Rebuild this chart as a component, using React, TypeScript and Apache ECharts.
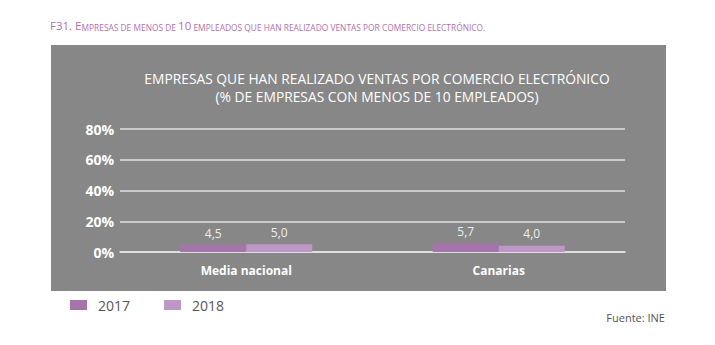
import React, { useEffect, useRef } from "react";
import * as echarts from "echarts";

const categories = ["Media nacional", "Canarias"];
const years = ["2017", "2018"];
const values2017 = [4.5, 5.7];
const values2018 = [5.0, 4.0];
const yTicks = { min: 0, max: 80, interval: 20 };

const FONT = "'Open Sans', sans-serif";

export default function App() {
  const ref = useRef<HTMLDivElement>(null);
  useEffect(() => {
    if (!ref.current) return;
    const chart = echarts.init(ref.current, undefined, { renderer: "svg" });
    const labelFmt = (p: any) => Number(p.value).toFixed(1).replace(".", ",");
    chart.setOption({
      animation: false,
      backgroundColor: "#ffffff",
      textStyle: { fontFamily: FONT },
      graphic: [
        {
          type: "rect",
          z: -10,
          shape: { x: 51, y: 45, width: 615, height: 246 },
          style: { fill: "#878787" },
        },
        {
          type: "text",
          x: 50,
          y: 17,
          style: {
            text: "{b|F31. E}{s|MPRESAS DE MENOS DE }{b|10}{s| EMPLEADOS QUE HAN REALIZADO VENTAS POR COMERCIO ELECTRÓNICO.}",
            rich: {
              b: { fontSize: 11.5, lineHeight: 14, verticalAlign: "bottom", fill: "#b570ae", fontFamily: FONT },
              s: { fontSize: 8.4, lineHeight: 14, verticalAlign: "bottom", fill: "#b570ae", fontFamily: FONT },
            },
          },
        },
        {
          type: "text",
          x: 665,
          y: 312,
          style: {
            text: "Fuente: INE",
            fontSize: 11,
            fill: "#555555",
            fontFamily: FONT,
            textAlign: "right",
          },
        },
      ],
      title: {
        text: "EMPRESAS QUE HAN REALIZADO VENTAS POR COMERCIO ELECTRÓNICO\n(% DE EMPRESAS CON MENOS DE 10 EMPLEADOS)",
        left: 372,
        top: 64,
        textAlign: "center",
        textStyle: {
          color: "#ffffff",
          fontSize: 13.8,
          fontWeight: "normal",
          lineHeight: 18,
          fontFamily: FONT,
        },
      },
      legend: {
        data: years,
        left: 65,
        top: 293,
        icon: "rect",
        itemWidth: 17,
        itemHeight: 10,
        itemGap: 34,
        textStyle: {
          color: "#555555",
          fontSize: 14,
          fontFamily: FONT,
          padding: [0, 0, 0, 6],
        },
      },
      grid: { left: 120, right: 90, top: 129, bottom: 93, containLabel: false },
      xAxis: {
        type: "category",
        data: categories,
        axisLine: { lineStyle: { color: "#e6e6e6", width: 1.5 } },
        axisTick: { inside: true, length: 10, lineStyle: { color: "#e6e6e6", width: 1.5 } },
        axisLabel: {
          color: "#ffffff",
          fontWeight: "bold",
          fontSize: 12,
          margin: 12,
          fontFamily: FONT,
        },
      },
      yAxis: {
        type: "value",
        min: yTicks.min,
        max: yTicks.max,
        interval: yTicks.interval,
        axisLine: { show: false },
        axisTick: { show: false },
        axisLabel: {
          formatter: "{value}%",
          color: "#ffffff",
          fontWeight: "bold",
          fontSize: 14,
          margin: 6,
          fontFamily: FONT,
        },
        splitLine: { lineStyle: { color: "#e0e0e0", width: 1.5 } },
      },
      series: [
        {
          name: years[0],
          type: "bar",
          data: values2017,
          barWidth: 66,
          barGap: "0%",
          itemStyle: { color: "#a474ab" },
          label: {
            show: true,
            position: "top",
            distance: 6,
            color: "#eeeeee",
            fontSize: 12,
            fontFamily: FONT,
            formatter: labelFmt,
          },
        },
        {
          name: years[1],
          type: "bar",
          data: values2018,
          barWidth: 66,
          barGap: "0%",
          itemStyle: { color: "#bf97c6" },
          label: {
            show: true,
            position: "top",
            distance: 6,
            color: "#eeeeee",
            fontSize: 12,
            fontFamily: FONT,
            formatter: labelFmt,
          },
        },
      ],
    });
    return () => chart.dispose();
  }, []);
  return (
    <div
      ref={ref}
      style={{ position: "fixed", left: 0, top: 0, width: 715, height: 345 }}
    />
  );
}
